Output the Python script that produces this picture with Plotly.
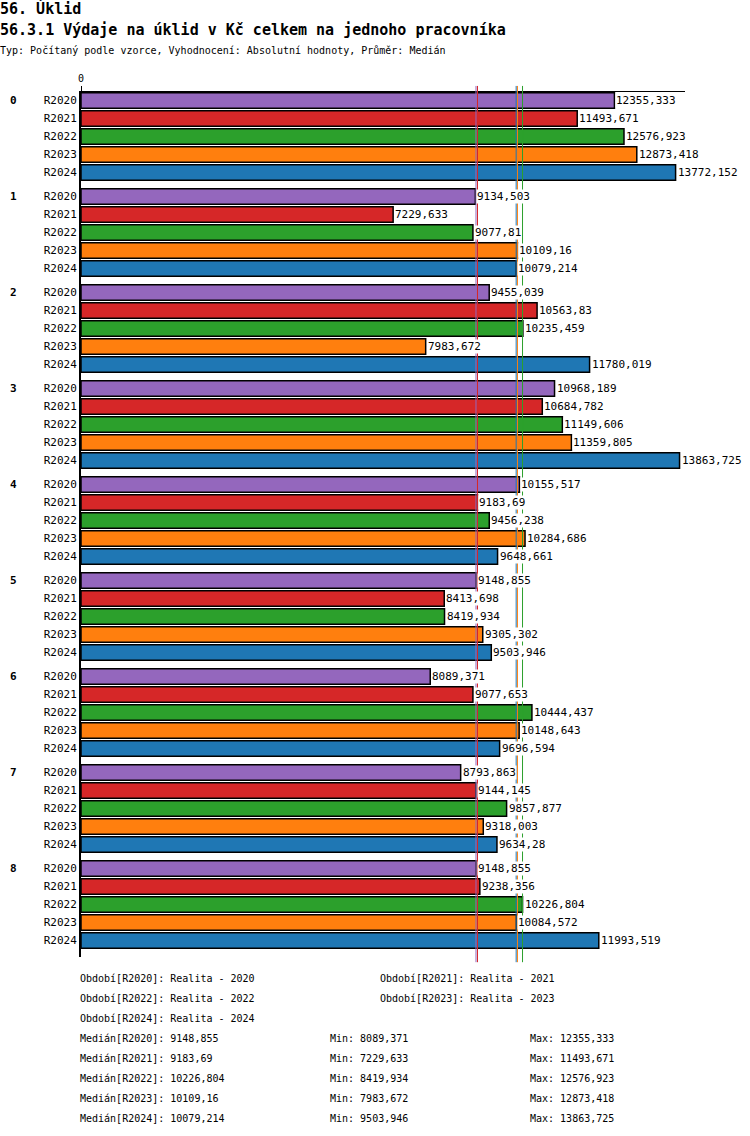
import numpy as np
import plotly.graph_objects as go

# data
groups = ["0", "1", "2", "3", "4", "5", "6", "7", "8"]
periods = ["R2020", "R2021", "R2022", "R2023", "R2024"]
period_names = ["Realita - 2020", "Realita - 2021", "Realita - 2022",
                "Realita - 2023", "Realita - 2024"]

r2020 = [12355.333, 9134.503, 9455.039, 10968.189, 10155.517, 9148.855, 8089.371, 8793.863, 9148.855]
r2021 = [11493.671, 7229.633, 10563.83, 10684.782, 9183.69, 8413.698, 9077.653, 9144.145, 9238.356]
r2022 = [12576.923, 9077.81, 10235.459, 11149.606, 9456.238, 8419.934, 10444.437, 9857.877, 10226.804]
r2023 = [12873.418, 10109.16, 7983.672, 11359.805, 10284.686, 9305.302, 10148.643, 9318.003, 10084.572]
r2024 = [13772.152, 10079.214, 11780.019, 13863.725, 9648.661, 9503.946, 9696.594, 9634.28, 11993.519]

series = [r2020, r2021, r2022, r2023, r2024]
colors = ["#9467bd", "#d62728", "#2ca02c", "#ff7f0e", "#1f77b4"]

MONO = "DejaVu Sans Mono"
W, H = 750, 1136
L, R, T, B = 81, 65, 92, 179
PW, PH = W - L - R, H - T - B
GROUP_STEP = 16 / 3  # 5 bars + a third of a bar as gap


def px_x(p):
    return (p - L) / PW


def px_y(p):
    return (T + PH - p) / PH


def cz(v):
    s = f"{v:.3f}".rstrip("0").rstrip(".")
    return s.replace(".", ",")


def bar_pos(g, i):
    return g * GROUP_STEP + i


fig = go.Figure()
ann = []

for i, (name, vals, col) in enumerate(zip(periods, series, colors)):
    ys = [bar_pos(g, i) for g in range(len(groups))]
    fig.add_trace(
        go.Bar(
            x=vals,
            y=ys,
            orientation="h",
            name=name,
            width=0.86,
            marker=dict(color=col, line=dict(color="black", width=1.5)),
            hoverinfo="skip",
        )
    )
    # value labels on a white box, so the median lines pass behind them
    for v, y in zip(vals, ys):
        ann.append(dict(
            x=v, y=y, xref="x", yref="y", text=cz(v), showarrow=False,
            xanchor="left", yanchor="middle", xshift=1,
            bgcolor="white", borderpad=0,
            font=dict(family=MONO, size=11, color="black"),
        ))

# median lines
medians = [float(np.median(s)) for s in series]
for med, col in zip(medians, colors):
    fig.add_shape(
        type="line", xref="x", yref="paper",
        x0=med, x1=med, y0=-0.006, y1=1.007,
        line=dict(color=col, width=1), layer="above",
    )

tickvals = [bar_pos(g, i) for g in range(len(groups)) for i in range(len(periods))]
ticktext = [p for _ in groups for p in periods]

for g, lab in enumerate(groups):
    ann.append(dict(
        x=px_x(13), y=bar_pos(g, 0), xref="paper", yref="y",
        text=f"<b>{lab}</b>", showarrow=False, xanchor="center", yanchor="middle",
        font=dict(family=MONO, size=11, color="black"),
    ))

ann.append(dict(x=px_x(-2), y=px_y(8), xref="paper", yref="paper", text="<b>56. Úklid</b>",
                showarrow=False, xanchor="left", yanchor="middle",
                font=dict(family=MONO, size=15, color="black")))
ann.append(dict(x=px_x(-2), y=px_y(30), xref="paper", yref="paper",
                text="<b>56.3.1 Výdaje na úklid v Kč celkem na jednoho pracovníka</b>",
                showarrow=False, xanchor="left", yanchor="middle",
                font=dict(family=MONO, size=15, color="black")))
ann.append(dict(x=px_x(-2), y=px_y(51), xref="paper", yref="paper",
                text="Typ: Počítaný podle vzorce, Vyhodnocení: Absolutní hodnoty, Průměr: Medián",
                showarrow=False, xanchor="left", yanchor="middle",
                font=dict(family=MONO, size=10, color="black")))

small = dict(family=MONO, size=10, color="black")
for i, (p, nm) in enumerate(zip(periods, period_names)):
    ann.append(dict(x=px_x(78 + 300 * (i % 2)), y=px_y(978 + 20 * (i // 2)),
                    xref="paper", yref="paper", text=f"Období[{p}]: {nm}",
                    showarrow=False, xanchor="left", yanchor="middle", font=small))

for i, (p, s) in enumerate(zip(periods, series)):
    yy = px_y(1038 + 20 * i)
    for xp, txt in [(78, f"Medián[{p}]: {cz(np.median(s))}"),
                    (328, f"Min: {cz(min(s))}"),
                    (528, f"Max: {cz(max(s))}")]:
        ann.append(dict(x=px_x(xp), y=yy, xref="paper", yref="paper", text=txt,
                        showarrow=False, xanchor="left", yanchor="middle", font=small))

fig.update_layout(
    width=W, height=H,
    margin=dict(l=L, r=R, t=T, b=B, pad=0),
    paper_bgcolor="white", plot_bgcolor="white",
    showlegend=False,
    barmode="overlay",
    annotations=ann,
    xaxis=dict(
        side="top", range=[0, 13990], showgrid=False, zeroline=False,
        showline=True, linecolor="black", linewidth=1,
        tickvals=[0], ticktext=["0"], ticks="outside", ticklen=5, tickcolor="black",
        tickfont=dict(family=MONO, size=10, color="black"),
    ),
    yaxis=dict(
        range=[bar_pos(len(groups) - 1, 4) + 0.92, -0.47],
        showgrid=False, zeroline=False,
        showline=True, linecolor="black", linewidth=2,
        tickvals=tickvals, ticktext=ticktext, ticks="",
        tickfont=dict(family=MONO, size=11, color="black"),
    ),
)

# the page has an 8px body margin by default; drop it so the chart sits at 0,0
fig.write_html("out.html", config={"displayModeBar": False},
               post_script="document.body.style.margin='0';")
